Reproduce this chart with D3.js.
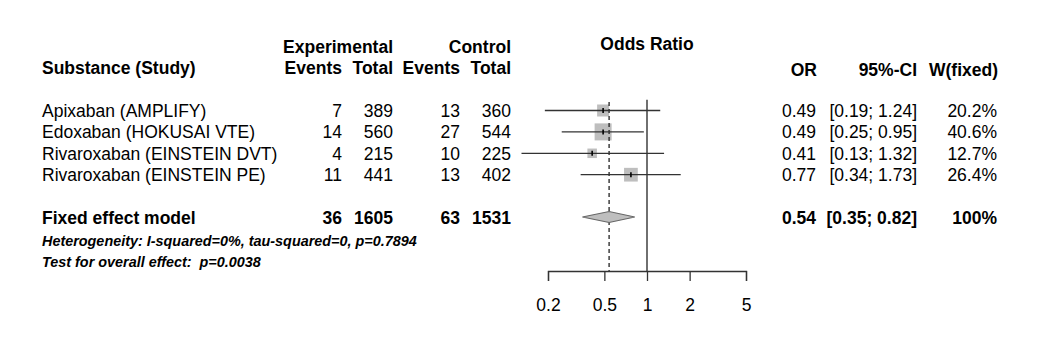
<!DOCTYPE html>
<html>
<head>
<meta charset="utf-8">
<script src="https://cdn.jsdelivr.net/npm/d3@7"></script>
<style>
  body { margin: 0; background: #fff; }
  svg { font-family: "Liberation Sans", Arial, sans-serif; }
</style>
</head>
<body>
<svg id="chart" width="1040" height="350"></svg>
<script>
// study data
const studies = ["Apixaban (AMPLIFY)", "Edoxaban (HOKUSAI VTE)", "Rivaroxaban (EINSTEIN DVT)", "Rivaroxaban (EINSTEIN PE)"];
const expEvents = [7, 14, 4, 11];
const expTotal = [389, 560, 215, 441];
const ctrlEvents = [13, 27, 10, 13];
const ctrlTotal = [360, 544, 225, 402];
const or = [0.49, 0.49, 0.41, 0.77];
const ciLow = [0.19, 0.25, 0.13, 0.34];
const ciHigh = [1.24, 0.95, 1.32, 1.73];
const weight = [20.2, 40.6, 12.7, 26.4];

// pooled
const pooled = {label: "Fixed effect model", expEvents: 36, expTotal: 1605, ctrlEvents: 63, ctrlTotal: 1531,
                or: 0.54, lo: 0.35, hi: 0.82, w: "100%"};
const hetText = "Heterogeneity: I-squared=0%, tau-squared=0, p=0.7894";
const testText = "Test for overall effect:  p=0.0038";
const axisTicks = [0.2, 0.5, 1, 2, 5];

const svg = d3.select("#chart");

const x = d3.scaleLog().domain([0.2, 5]).range([548, 746]);
// row index -> vertical position
const y = d3.scaleLinear().domain([0, 1]).range([110.5, 131.9]);

const fs = 17.5;
const f2 = d3.format(".2f");

function txt(s, xx, row, anchor, weightF, size, style) {
  svg.append("text")
    .attr("x", xx).attr("y", y(row)).attr("dy", "0.36em")
    .attr("text-anchor", anchor || "start")
    .attr("font-weight", weightF || "normal")
    .attr("font-style", style || "normal")
    .attr("font-size", size || fs)
    .style("white-space", "pre")
    .text(s);
}

// headers
txt("Experimental", 393, -3, "end", "bold");
txt("Control", 511, -3, "end", "bold");
txt("Odds Ratio", x(1), -3.1, "middle", "bold");
txt("Substance (Study)", 42, -2, "start", "bold");
txt("Events", 342, -2, "end", "bold");
txt("Total", 393, -2, "end", "bold");
txt("Events", 460, -2, "end", "bold");
txt("Total", 511, -2, "end", "bold");
txt("OR", 817, -1.9, "end", "bold");
txt("95%-CI", 917, -1.9, "end", "bold");
txt("W(fixed)", 998, -1.9, "end", "bold");

// study rows
studies.forEach((s, i) => {
  txt(s, 42, i);
  txt(expEvents[i], 342, i, "end");
  txt(expTotal[i], 393, i, "end");
  txt(ctrlEvents[i], 460, i, "end");
  txt(ctrlTotal[i], 511, i, "end");
  txt(f2(or[i]), 816, i, "end");
  txt("[" + f2(ciLow[i]) + "; " + f2(ciHigh[i]) + "]", 917, i, "end");
  txt(weight[i].toFixed(1) + "%", 997, i, "end");
});

// pooled row
txt(pooled.label, 42, 5, "start", "bold");
txt(pooled.expEvents, 342, 5, "end", "bold");
txt(pooled.expTotal, 393, 5, "end", "bold");
txt(pooled.ctrlEvents, 460, 5, "end", "bold");
txt(pooled.ctrlTotal, 511, 5, "end", "bold");
txt(f2(pooled.or), 816, 5, "end", "bold");
txt("[" + f2(pooled.lo) + "; " + f2(pooled.hi) + "]", 917, 5, "end", "bold");
txt(pooled.w, 997, 5, "end", "bold");
txt(hetText, 42, 6.07, "start", "bold", 14.4, "italic");
txt(testText, 42, 7.07, "start", "bold", 14.4, "italic");

// reference lines
const yTop = y(-0.5), yAxis = 271;
svg.append("line")
  .attr("x1", x(1)).attr("x2", x(1)).attr("y1", yTop).attr("y2", yAxis)
  .attr("stroke", "#222").attr("stroke-width", 1.3);

// squares
const side = d => 2.67 * Math.sqrt(d);
studies.forEach((s, i) => {
  const sz = side(weight[i]);
  svg.append("rect")
    .attr("x", x(or[i]) - sz / 2).attr("y", y(i) - sz / 2)
    .attr("width", sz).attr("height", sz)
    .attr("fill", "#bebebe");
});

svg.append("line")
  .attr("x1", x(pooled.or)).attr("x2", x(pooled.or)).attr("y1", y(-0.4)).attr("y2", yAxis)
  .attr("stroke", "#222").attr("stroke-width", 1.3).attr("stroke-dasharray", "4,3");

studies.forEach((s, i) => {
  svg.append("line")
    .attr("x1", x(ciLow[i])).attr("x2", x(ciHigh[i])).attr("y1", y(i)).attr("y2", y(i))
    .attr("stroke", "#333").attr("stroke-width", 1.3);
  svg.append("line")
    .attr("x1", x(or[i])).attr("x2", x(or[i])).attr("y1", y(i) - 2.5).attr("y2", y(i) + 2.5)
    .attr("stroke", "#000").attr("stroke-width", 1.6);
});

// diamond
const yd = y(5) - 0.5;
svg.append("path")
  .attr("d", `M${x(pooled.lo)},${yd} L${x(pooled.or)},${yd - 5.5} L${x(pooled.hi)},${yd} L${x(pooled.or)},${yd + 5.5} Z`)
  .attr("fill", "#bebebe").attr("stroke", "#666").attr("stroke-width", 1.2);

// axis
const axis = svg.append("g")
  .attr("transform", `translate(0,${yAxis})`)
  .call(d3.axisBottom(x).tickValues(axisTicks).tickFormat(d => d).tickSize(10).tickPadding(18));
axis.selectAll("path, line").attr("stroke", "#333").attr("stroke-width", 1.3);
axis.selectAll("text").attr("font-size", fs).attr("font-family", "Liberation Sans, Arial, sans-serif").attr("fill", "#000");
</script>
</body>
</html>
